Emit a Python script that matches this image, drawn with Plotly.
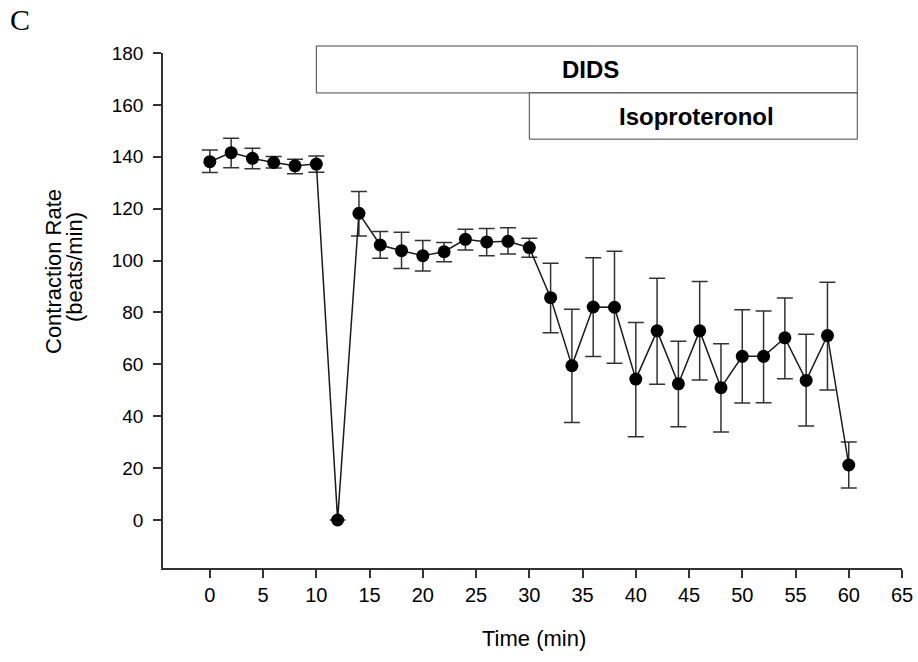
import plotly.graph_objects as go

# ---- data ----
time_min = [0, 2, 4, 6, 8, 10, 12, 14, 16, 18, 20, 22, 24, 26, 28, 30,
            32, 34, 36, 38, 40, 42, 44, 46, 48, 50, 52, 54, 56, 58, 60]
rate = [138.1, 141.6, 139.4, 137.8, 136.5, 137.2, 0.0, 118.2, 106.0, 103.8, 101.9, 103.4,
        108.2, 107.2, 107.4, 105.0, 85.7, 59.5, 82.1, 82.0, 54.3, 72.9, 52.5, 72.9,
        51.0, 63.1, 63.1, 70.2, 53.8, 71.1, 21.2]
err_upper = [142.6, 147.1, 143.3, 140.1, 139.0, 140.3, 0.0, 126.6, 111.2, 110.9, 107.7, 107.0,
             112.1, 112.4, 112.6, 108.6, 99.0, 81.2, 101.1, 103.6, 76.1, 93.2, 68.9, 91.9,
             67.9, 81.0, 80.6, 85.6, 71.6, 91.6, 30.1]
err_lower = [133.9, 135.8, 135.4, 135.7, 133.5, 134.0, 0.0, 109.5, 100.9, 96.9, 96.0, 99.5,
             104.1, 101.9, 102.5, 101.3, 72.2, 37.6, 63.0, 60.4, 32.1, 52.3, 35.9, 54.0,
             33.9, 45.1, 45.2, 54.4, 36.2, 50.1, 12.3]

x_ticks = [0, 5, 10, 15, 20, 25, 30, 35, 40, 45, 50, 55, 60, 65]
y_ticks = [0, 20, 40, 60, 80, 100, 120, 140, 160, 180]

# treatment bars: (label, start, end, bottom, top)
treatments = [("DIDS", 10, 60.8, 164.6, 182.7),
              ("Isoproteronol", 30, 60.8, 146.8, 164.6)]

x_range = [-4.4, 65]
y_range = [-18.5, 180]

plus = [u - r for u, r in zip(err_upper, rate)]
minus = [r - l for r, l in zip(rate, err_lower)]

W, H = 918, 662
ML, MR, MT, MB = 163, 16, 53, 94
PW, PH = W - ML - MR, H - MT - MB

fig = go.Figure()
fig.add_trace(go.Scatter(
    x=time_min, y=rate, mode="lines+markers",
    line=dict(color="#1a1a1a", width=1.5),
    marker=dict(color="black", size=13),
    error_y=dict(type="data", symmetric=False, array=plus, arrayminus=minus,
                 color="#333333", thickness=1.5, width=8),
    showlegend=False, cliponaxis=False,
))


def to_paper(v):
    return (v - y_range[0]) / (y_range[1] - y_range[0])


def px_x(p):
    return (p - ML) / PW


def px_y(p):
    return (H - MB - p) / PH


shapes = []
annotations = []
for label, x0, x1, b, t in treatments:
    shapes.append(dict(type="rect", xref="x", yref="paper", x0=x0, x1=x1,
                       y0=to_paper(b), y1=to_paper(t),
                       line=dict(color="#444444", width=1), fillcolor="white"))
    annotations.append(dict(x=(x0 + x1) / 2 + 0.3, y=to_paper((b + t) / 2), xref="x", yref="paper",
                            xanchor="center", yanchor="middle",
                            text="<b>%s</b>" % label, showarrow=False,
                            font=dict(family="Liberation Sans", size=24, color="black")))

# panel letter
annotations.append(dict(x=px_x(20), y=px_y(20), xref="paper", yref="paper",
                        xanchor="center", yanchor="middle", text="C", showarrow=False,
                        font=dict(family="Liberation Serif", size=30, color="black")))
# y title (two lines)
annotations.append(dict(x=px_x(53), y=px_y(272), xref="paper", yref="paper",
                        xanchor="center", yanchor="middle", textangle=-90,
                        text="Contraction Rate", showarrow=False,
                        font=dict(family="Liberation Sans", size=22, color="black")))
annotations.append(dict(x=px_x(74), y=px_y(267), xref="paper", yref="paper",
                        xanchor="center", yanchor="middle", textangle=-90,
                        text="(beats/min)", showarrow=False,
                        font=dict(family="Liberation Sans", size=22, color="black")))
# x title
annotations.append(dict(x=px_x(534), y=px_y(638), xref="paper", yref="paper",
                        xanchor="center", yanchor="middle",
                        text="Time (min)", showarrow=False,
                        font=dict(family="Liberation Sans", size=22, color="black")))

fig.update_layout(
    width=W, height=H,
    margin=dict(l=ML, r=MR, t=MT, b=MB),
    paper_bgcolor="white", plot_bgcolor="white",
    font=dict(family="Liberation Sans", color="black"),
    shapes=shapes, annotations=annotations,
    xaxis=dict(range=x_range, tickvals=x_ticks, ticks="outside", ticklen=8, tickwidth=1.5,
               tickcolor="#333333", showline=True, linecolor="#333333", linewidth=1.5,
               showgrid=False, zeroline=False, tickfont=dict(size=20), automargin=False,
               ticklabelstandoff=0),
    yaxis=dict(range=y_range, tickvals=y_ticks, ticks="outside", ticklen=8, tickwidth=1.5,
               tickcolor="#333333", showline=True, linecolor="#333333", linewidth=1.5,
               showgrid=False, zeroline=False, tickfont=dict(size=19), automargin=False,
               ticklabelstandoff=6),
)

fig.write_html("out.html", config={"displayModeBar": False},
               post_script="document.body.style.margin='0';document.body.style.overflow='hidden';")
